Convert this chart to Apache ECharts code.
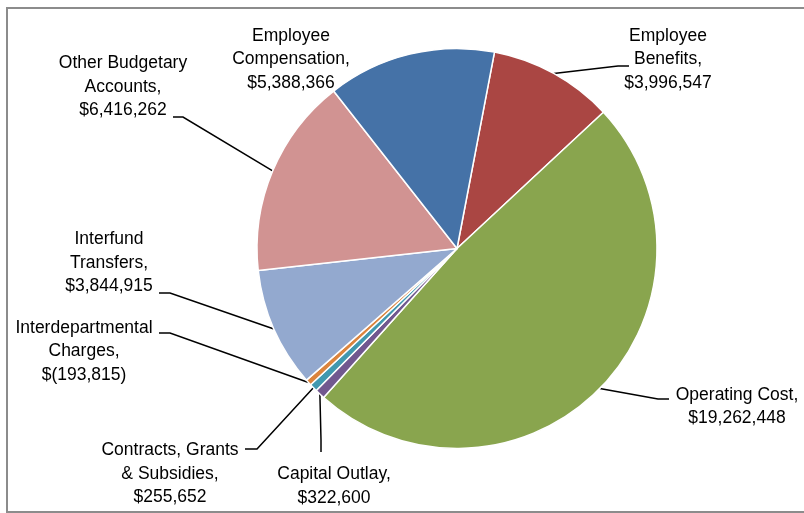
<!DOCTYPE html>
<html><head><meta charset="utf-8">
<script src="https://cdn.jsdelivr.net/npm/echarts@6/dist/echarts.min.js"></script>
<style>html,body{margin:0;padding:0;background:#fff}#chart{width:804px;height:513px}</style>
</head><body><div id="chart"></div>
<script>
// ---- data ----
const categories = ['Employee\nBenefits', 'Operating Cost', 'Capital Outlay', 'Contracts, Grants\n& Subsidies', 'Interdepartmental\nCharges', 'Interfund\nTransfers', 'Other Budgetary\nAccounts', 'Employee\nCompensation'];
const amounts = [3996547, 19262448, 322600, 255652, -193815, 3844915, 6416262, 5388366];
const colors = ['#AA4643', '#89A54E', '#71588F', '#4198AF', '#DB843D', '#93A9CF', '#D19392', '#4572A7'];

// ---- label layout (centre of label block, leader elbow and end) ----
const labelPos = [
  {x: 668, y: 59.5, line: [[618, 66], [629, 66]]},
  {x: 737, y: 406.5, line: [[658, 399], [669, 399]]},
  {x: 334, y: 486, line: [[321, 440], [321, 452]]},
  {x: 170, y: 474, line: [[257, 449], [245, 449]]},
  {x: 84, y: 351.5, line: [[170, 333], [159, 333]]},
  {x: 109, y: 263, line: [[170, 293], [159, 293]]},
  {x: 123, y: 87, line: [[183, 117], [173, 117]]},
  {x: 291, y: 59.5, line: null}
];

function fmt(v) {
  const s = Math.abs(v).toString().replace(/\B(?=(\d{3})+(?!\d))/g, ',');
  return v < 0 ? '$(' + s + ')' : '$' + s;
}

const pieData = categories.map((c, i) => ({
  name: c,
  value: Math.abs(amounts[i]),
  raw: amounts[i],
  itemStyle: {color: colors[i]},
  labelLine: {show: !!labelPos[i].line}
}));

const chart = echarts.init(document.getElementById('chart'), null, {renderer: 'canvas'});
chart.setOption({
  animation: false,
  backgroundColor: '#ffffff',
  graphic: [{
    type: 'rect', z: -10, silent: true,
    shape: {x: 7, y: 8, width: 830, height: 504},
    style: {fill: 'none', stroke: '#8c8c8c', lineWidth: 2}
  }],
  series: [{
    type: 'pie',
    center: [457, 248.5],
    radius: [0, 200],
    startAngle: 79.2,
    clockwise: true,
    avoidLabelOverlap: false,
    itemStyle: {borderColor: '#ffffff', borderWidth: 1.5},
    label: {
      show: true,
      position: 'outside',
      formatter: p => p.name + ',\n' + fmt(amounts[p.dataIndex]),
      fontFamily: 'Liberation Sans, Arial, sans-serif',
      fontSize: 17.5,
      lineHeight: 23.5,
      color: '#000',
      align: 'center'
    },
    labelLine: {show: true, lineStyle: {color: '#000', width: 1.5}},
    labelLayout: function (params) {
      const i = params.dataIndex;
      const L = labelPos[i];
      const res = {x: L.x, y: L.y, align: 'center', verticalAlign: 'middle'};
      if (L.line && params.labelLinePoints) {
        const p0 = params.labelLinePoints[0];
        res.labelLinePoints = [[p0[0], p0[1]], L.line[0].slice(), L.line[1].slice()];
      }
      return res;
    },
    emphasis: {disabled: true},
    data: pieData
  }]
});
</script>
</body></html>
